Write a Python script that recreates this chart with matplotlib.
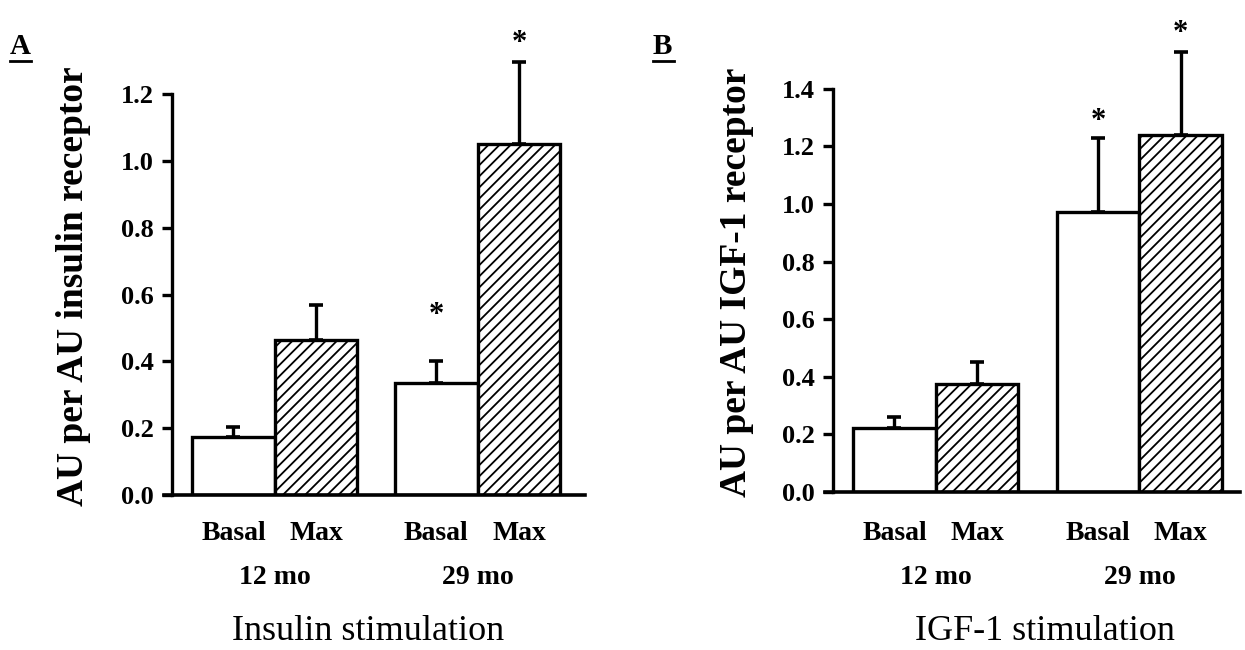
import matplotlib
matplotlib.use("Agg")
import matplotlib.pyplot as plt

plt.rcParams['font.family'] = ['Liberation Serif', 'DejaVu Serif']
plt.rcParams['hatch.linewidth'] = 1.3

W, H = 1245, 650

conditions = ["Basal", "Max", "Basal", "Max"]
ages = ["12 mo", "29 mo"]

insulin_mean = [0.175, 0.465, 0.335, 1.05]
insulin_err = [0.030, 0.105, 0.065, 0.245]
insulin_star = [None, None, 0.536, 1.352]

igf_mean = [0.222, 0.375, 0.972, 1.24]
igf_err = [0.040, 0.075, 0.257, 0.288]
igf_star = [None, None, 1.287, 1.592]


def px(x, y):
    return x / W, 1 - y / H


fig = plt.figure(figsize=(W / 100, H / 100), dpi=100)


def panel(left, right, base, ppu, ymax, ytop, pos, bar_w_px,
          means, errs, stars, yticks, ylabel, xlabel, xlabel_x,
          letter, letter_x, ylab_x):
    x0 = pos[0]
    xl = x0 - 0.745
    xr = xl + (right - left) / bar_w_px
    height = ymax * ppu
    ax = fig.add_axes([left / W, 1 - base / H, (right - left) / W, height / H])
    hatches = ['', '///', '', '///']
    for x, m, e, h in zip(pos, means, errs, hatches):
        ax.bar(x, m, width=1.0, color='white', edgecolor='black',
               linewidth=2.4, hatch=h, zorder=2)
        ax.errorbar(x, m, yerr=[[0], [e]], fmt='none', ecolor='black',
                    elinewidth=2.4, capsize=5, capthick=2.6, zorder=1)
    for x, s in zip(pos, stars):
        if s is not None:
            ax.text(x, s, '*', ha='center', va='center',
                    fontsize=22, fontweight='bold')
    ax.set_ylim(0, ymax)
    ax.set_xlim(xl, xr)
    for side in ['top', 'right', 'bottom']:
        ax.spines[side].set_visible(False)
    ax.spines['left'].set_linewidth(2.4)
    ax.spines['left'].set_bounds(0, ytop)
    ax.plot([xl - 0.1, xr], [0, 0], color='black', lw=2.6,
            clip_on=False, zorder=3)
    ax.set_yticks(yticks)
    ax.set_yticklabels([f"{t:.1f}" for t in yticks], fontsize=19,
                       fontweight='bold')
    ax.tick_params(axis='y', length=7, width=2.4, pad=6)
    ax.set_xticks([])

    fig.text(*px(ylab_x, base - ytop * ppu / 2 - 8), ylabel, rotation=90,
             ha='center', va='center', fontsize=27, fontweight='bold')

    # category and age labels, placed in axes-x / figure-y coordinates
    trans = ax.get_xaxis_transform()
    for x, c in zip(pos, conditions):
        ax.text(x, -(534 - base) / height, c, ha='center', va='center',
                fontsize=20, fontweight='bold', transform=trans)
    for i, a in enumerate(ages):
        xc = (pos[2 * i] + pos[2 * i + 1]) / 2
        ax.text(xc, -(578 - base) / height, a, ha='center', va='center',
                fontsize=20, fontweight='bold', transform=trans)
    fig.text(*px(xlabel_x, 632), xlabel, ha='center', va='center',
             fontsize=26)
    fig.text(*px(letter_x, 47), letter, fontsize=21, fontweight='bold',
             ha='left', va='center')
    fig.add_artist(plt.Line2D([letter_x / W, (letter_x + 21) / W],
                              [1 - 61 / H, 1 - 61 / H],
                              color='black', lw=2))
    return ax


pos_a = [0, 1, 2.46, 3.46]
panel(172, 585, 495, 334, 1.45, 1.2, pos_a, 82.5,
      insulin_mean, insulin_err, insulin_star,
      [0.0, 0.2, 0.4, 0.6, 0.8, 1.0, 1.2],
      "AU per AU insulin receptor", "Insulin stimulation", 368,
      "A", 10, 74)

pos_b = [0, 1, 2.47, 3.47]
panel(833, 1240, 492, 288, 1.68, 1.4, pos_b, 82.5,
      igf_mean, igf_err, igf_star,
      [0.0, 0.2, 0.4, 0.6, 0.8, 1.0, 1.2, 1.4],
      "AU per AU IGF-1 receptor", "IGF-1 stimulation", 1045,
      "B", 653, 736)

fig.savefig("out.png", dpi=100, facecolor='white')
